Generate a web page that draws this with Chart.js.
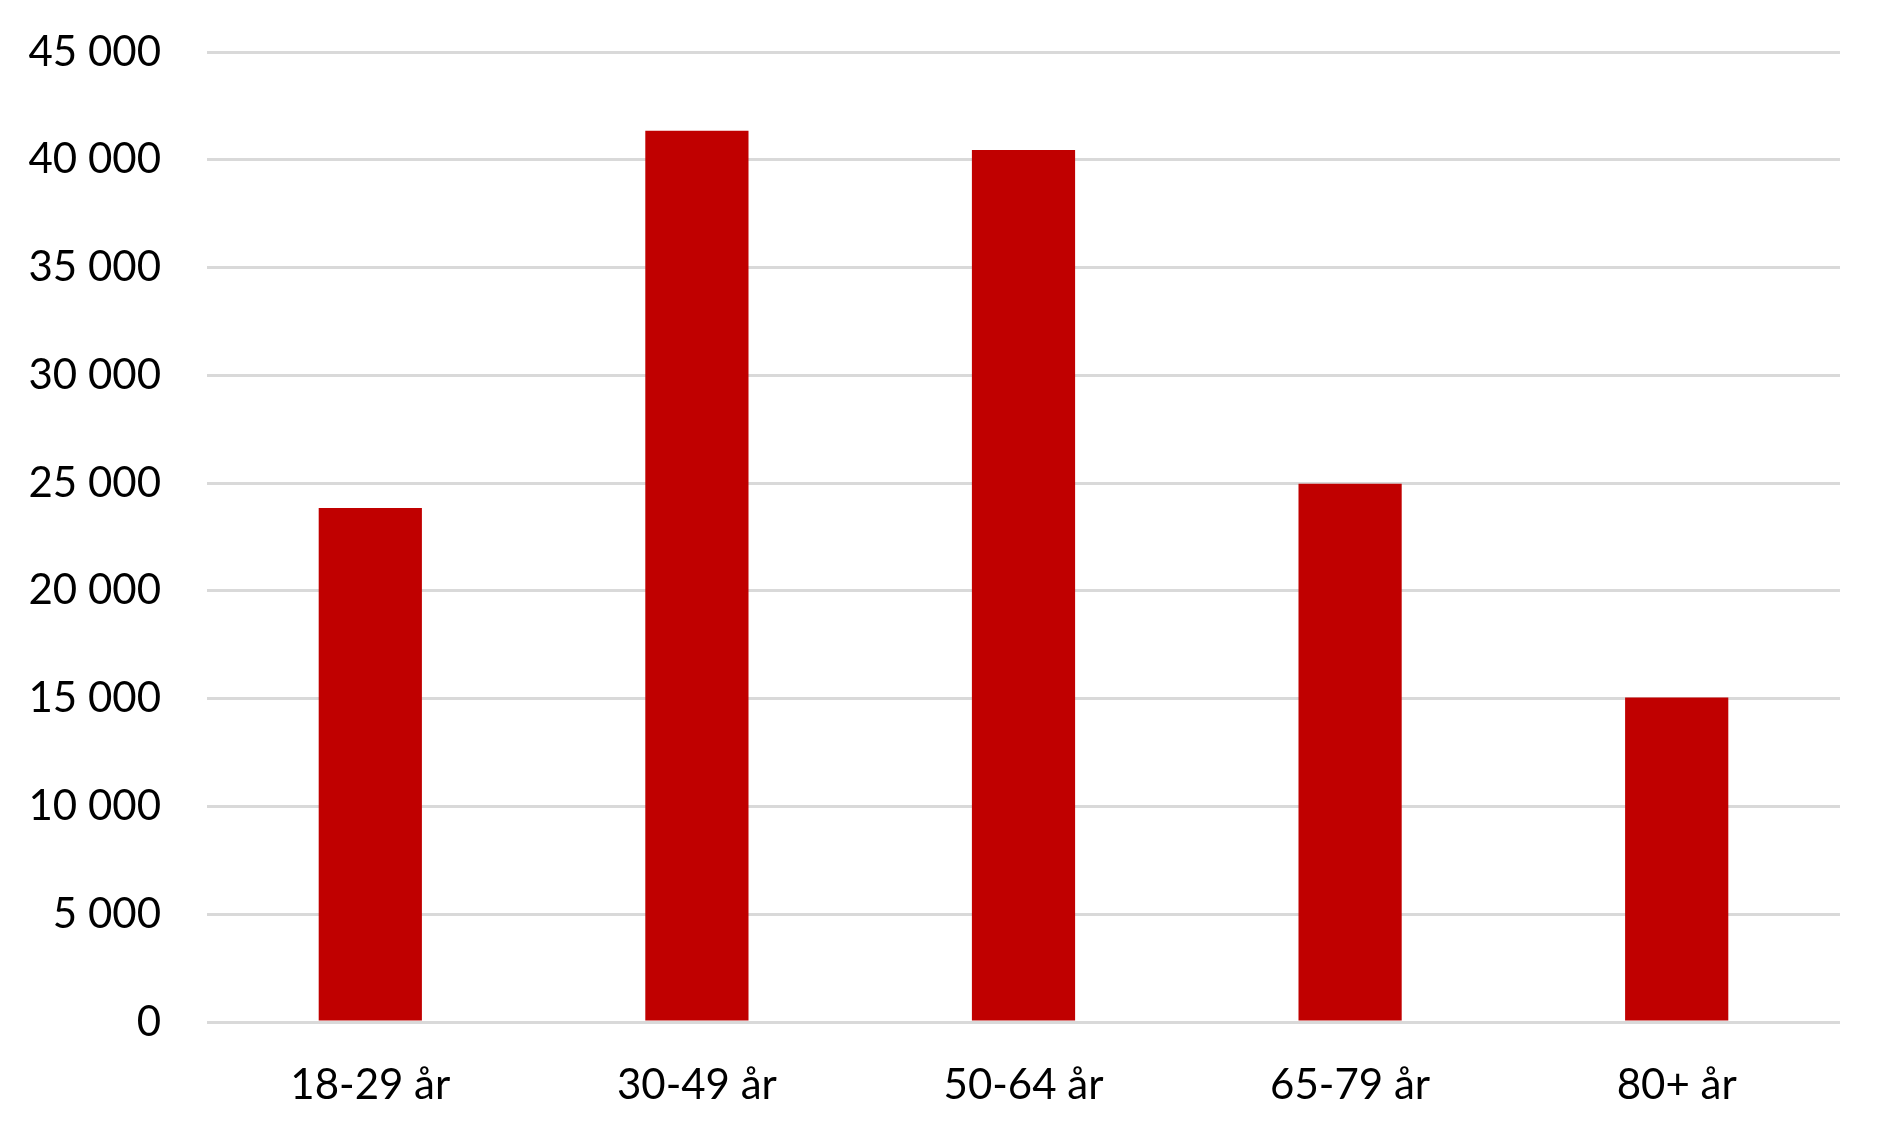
<!DOCTYPE html>
<html>
<head>
<meta charset="utf-8">
<script src="https://cdn.jsdelivr.net/npm/chart.js@4"></script>
<style>
  html, body { margin: 0; padding: 0; background: #ffffff; }
  #wrap { width: 1891px; height: 1142px; }
</style>
</head>
<body>
<div id="wrap"><canvas id="c" width="1891" height="1142"></canvas></div>
<script>
const categories = ["18-29 år", "30-49 år", "50-64 år", "65-79 år", "80+ år"];
const values = [23840, 41350, 40450, 24970, 15050];
const yTicks = [0, 5000, 10000, 15000, 20000, 25000, 30000, 35000, 40000, 45000];

function fmt(v) {
  return String(v).replace(/\B(?=(\d{3})+(?!\d))/g, " ");
}

new Chart(document.getElementById("c"), {
  type: "bar",
  data: {
    labels: categories,
    datasets: [{
      data: values,
      backgroundColor: "#c00000",
      borderWidth: 0,
      categoryPercentage: 1,
      barPercentage: 0.316
    }]
  },
  options: {
    responsive: false,
    animation: false,
    devicePixelRatio: 1,
    layout: { padding: { left: 0, right: 51, top: 52, bottom: 0 } },
    plugins: { legend: { display: false }, tooltip: { enabled: false } },
    scales: {
      x: {
        grid: { display: false, drawTicks: false },
        border: { display: false },
        ticks: {
          color: "#000000",
          font: { family: "Lato", size: 42 },
          padding: 38,
          maxRotation: 0
        },
        afterFit(scale) {
          scale.height = 1142 - 1022;
          scale.paddingLeft = 0; scale.paddingRight = 0;
        }
      },
      y: {
        min: 0,
        max: 45000,
        afterBuildTicks(scale) { scale.ticks = yTicks.map(v => ({ value: v })); },
        grid: { color: "#d9d9d9", lineWidth: 3, drawTicks: false },
        border: { display: false },
        ticks: {
          color: "#000000",
          font: { family: "Lato", size: 42 },
          padding: 46,
          callback: (v) => fmt(v)
        },
        afterFit(scale) {
          scale.width = 207;
          scale.paddingTop = 0; scale.paddingBottom = 0;
        }
      }
    }
  }
});
</script>
</body>
</html>
